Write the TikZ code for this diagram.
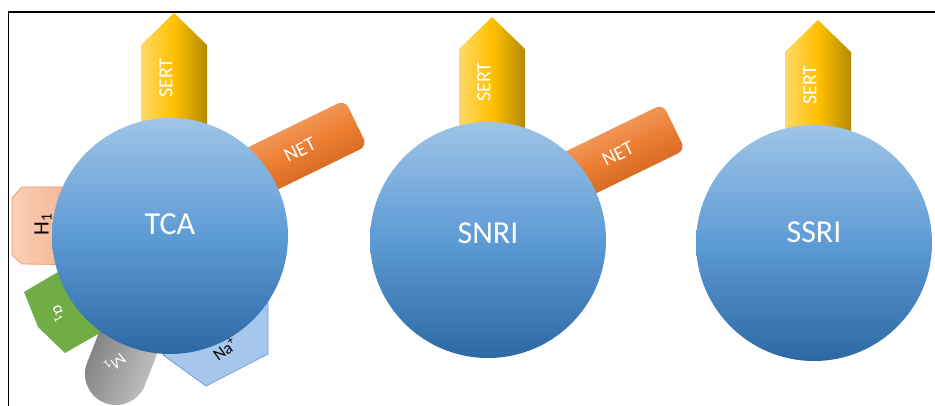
\documentclass[tikz,border=0pt]{standalone}
\usepackage{fontspec}
\setmainfont{Carlito}
\usetikzlibrary{calc}

% palette
\definecolor{circtop}{HTML}{9FC4E7}
\definecolor{circmid}{HTML}{5D9BD5}
\definecolor{circbot}{HTML}{2D68A3}
\definecolor{sertl}{HTML}{FFD966}
\definecolor{sertm}{HTML}{FFC000}
\definecolor{sertr}{HTML}{B38A00}
\definecolor{netl}{HTML}{F4B183}
\definecolor{netm}{HTML}{ED7D31}
\definecolor{netd}{HTML}{BF5A14}
\definecolor{hl}{HTML}{F9D0B6}
\definecolor{hr}{HTML}{F2A684}
\definecolor{hborder}{HTML}{F09A6E}
\definecolor{agreen}{HTML}{70AD47}
\definecolor{mdark}{HTML}{6E6E6E}
\definecolor{mlight}{HTML}{D6D6D6}
\definecolor{nafill}{HTML}{A6C7EB}
\definecolor{naborder}{HTML}{6EA3DB}

\tikzset{
  drug/.style={circle, minimum size=236pt, inner sep=0pt, draw=none,
    top color=circtop, bottom color=circbot, middle color=circmid},
  druglabel/.style={text=white, inner sep=0pt, font=\fontsize{32}{32}\selectfont},
  tag/.style={text=white, inner sep=0pt, font=\fontsize{20}{20}\selectfont},
  smalltag/.style={inner sep=0pt, font=\fontsize{17}{17}\selectfont},
  sertbody/.style={draw=none, left color=sertl, right color=sertr, middle color=sertm},
  netbody/.style={draw=none, rounded corners=8pt, top color=netl, bottom color=netd,
    middle color=netm, shading angle=26},
  hbody/.style={draw=hborder, line width=0.8pt, left color=hl, right color=hr},
  abody/.style={fill=agreen, draw=none},
  mbody/.style={draw=none, top color=mdark, bottom color=mlight, shading angle=68.6},
  nabody/.style={fill=nafill, draw=naborder, line width=0.8pt},
}

\begin{document}
\begin{tikzpicture}[x=1pt,y=1pt]
\useasboundingbox (0,0) rectangle (935,406);
\fill[white] (0,0) rectangle (935,406);

\coordinate (tcac) at (170,170);
\coordinate (snric) at (488,166);
\coordinate (ssric) at (814,163);

% SERT arrows behind every circle
\foreach \c/\n in {tcac/tca, snric/snri, ssric/ssri}{
  \begin{scope}[shift={(\c)}]
    \path[sertbody] (-29,60) -- (-29,191) -- (4,223) -- (37,191) -- (37,60) -- cycle;
    \node[tag, rotate=90] (\n-sert) at (-4,158) {SERT};
  \end{scope}
}

% NET bars for TCA and SNRI
\foreach \c/\n in {tcac/tca, snric/snri}{
  \begin{scope}[shift={(\c)}]
    \begin{scope}[shift={(186,113)}, rotate=26]
      \path[netbody] (-125,-25.5) rectangle (0,25.5);
    \end{scope}
    \node[tag, rotate=26] (\n-net) at (130,86) {NET};
  \end{scope}
}

% TCA off-targets
\path[hbody] (12,208) -- (22,219) -- (100,219) -- (100,141) -- (22,142) -- (12,151) -- cycle;
\node[smalltag, font=\fontsize{22}{22}\selectfont, rotate=90] (h1) at (43,182) {H\textsubscript{1}};

\path[abody] (24,114) -- (38,79) -- (65,53) -- (100,73) -- (110,106) -- (75,144) -- cycle;
\node[smalltag, text=white, rotate=-65] (a1) at (58,92) {α\textsubscript{1}};

\begin{scope}[shift={(116,32)}, rotate=248.6]
  \path[mbody] (-110,-31) -- (0,-31) arc[start angle=-90, end angle=90, radius=31] -- (-110,31) -- cycle;
\end{scope}
\node[smalltag, text=white, rotate=220] (m1) at (115,44) {M\textsubscript{1}};

\path[nabody] (163,51) -- (206,20) -- (268,52) -- (268,106) -- (215,116) -- cycle;

% drug circles
\node[drug] (tca) at (tcac) {};
\node[druglabel] (tca-label) at ($(tcac)+(0,12)$) {TCA};
\node[drug] (snri) at (snric) {};
\node[druglabel] (snri-label) at ($(snric)+(0,7)$) {SNRI};
\node[drug] (ssri) at (ssric) {};
\node[druglabel] (ssri-label) at ($(ssric)+(0,11)$) {SSRI};

% sodium channel label sits on the rim of the TCA circle
\node[smalltag, rotate=36] (na) at (225,57) {Na\textsuperscript{+}};

% frame
\draw[line width=1.3pt] (8.5,0) -- (8.5,394) -- (935,394);
\end{tikzpicture}
\end{document}
